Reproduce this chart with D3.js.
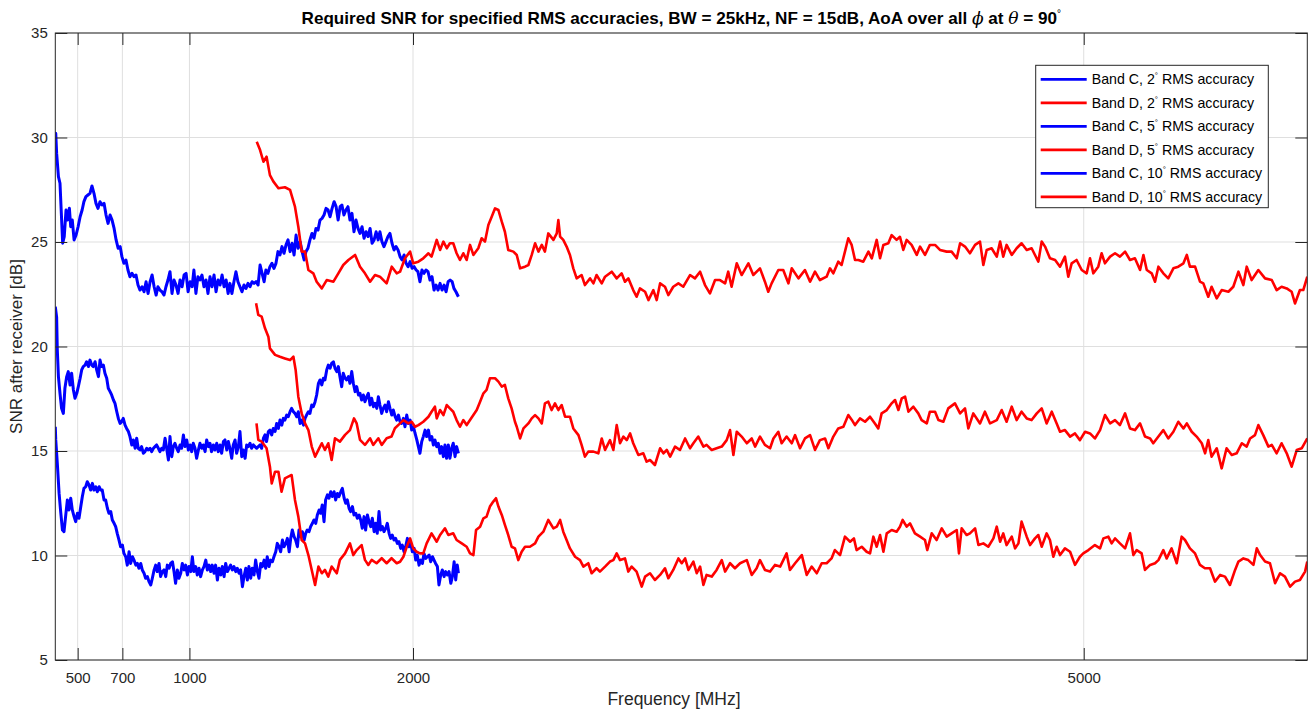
<!doctype html>
<html>
<head>
  <meta charset="utf-8">
  <script src="https://cdnjs.cloudflare.com/ajax/libs/d3/7.8.5/d3.min.js"></script>
  <style>
    body { margin: 0; background: #fff; }
    svg { font-family: "Liberation Sans", Arial, Helvetica, sans-serif; }
  </style>
</head>
<body>
  <svg id="chart" width="1314" height="712"></svg>
  <script>
    // [frequency MHz, SNR dB]
    var bandC2 = [[400,29.8],[402,30.2],[406,29.24],[414,28.13],[421,27.81],[427,26.37],[433,24.94],[440,25.26],[448,26.53],[455,26.05],[463,26.61],[469,25.73],[476,26.05],[484,25.1],[493,25.34],[502,25.73],[511,26.21],[520,26.53],[528,26.93],[537,27.17],[546,27.25],[555,27.33],[564,27.68],[573,27.33],[582,26.85],[591,26.61],[600,26.93],[609,26.77],[618,26.85],[627,26.29],[636,25.89],[645,26.29],[654,26.05],[663,25.65],[672,25.1],[681,24.7],[690,24.78],[698,24.3],[707,23.98],[716,24.14],[725,23.66],[734,23.34],[743,23.5],[752,23.34],[761,23.42],[770,22.94],[779,22.7],[788,22.86],[797,22.62],[806,23.1],[815,22.54],[824,23.1],[833,23.42],[842,22.86],[851,22.46],[859,22.86],[868,22.7],[877,22.62],[886,22.46],[895,22.86],[904,23.18],[913,23.58],[922,22.54],[931,23.18],[940,22.94],[949,22.54],[958,23.18],[967,22.86],[976,23.42],[985,23.5],[994,22.62],[1003,23.1],[1012,22.86],[1020,23.66],[1029,22.54],[1038,23.34],[1047,23.18],[1056,23.42],[1065,22.86],[1074,23.18],[1083,22.54],[1092,23.34],[1101,22.86],[1110,23.42],[1119,22.62],[1128,23.18],[1137,22.94],[1146,23.42],[1155,22.86],[1164,23.18],[1173,22.54],[1181,23.02],[1190,22.54],[1199,23.1],[1208,23.58],[1217,23.1],[1226,22.86],[1235,22.62],[1244,22.94],[1253,22.78],[1262,23.02],[1271,22.86],[1280,23.1],[1289,23.02],[1298,23.1],[1307,22.94],[1316,23.9],[1325,23.5],[1334,23.1],[1342,23.66],[1351,23.5],[1360,23.82],[1369,23.98],[1378,23.74],[1387,23.98],[1396,24.54],[1405,24.38],[1414,24.78],[1423,24.46],[1432,24.86],[1441,25.1],[1450,24.54],[1459,24.94],[1468,24.38],[1477,25.33],[1486,24.7],[1495,25.02],[1504,24.54],[1513,24.14],[1521,24.54],[1530,24.7],[1539,25.1],[1548,25.41],[1557,25.18],[1566,25.65],[1575,25.57],[1584,26.05],[1593,26.13],[1602,26.29],[1611,26.61],[1620,26.53],[1629,26.21],[1638,26.61],[1647,26.93],[1656,26.69],[1665,26.05],[1674,26.69],[1682,26.77],[1691,26.29],[1700,26.53],[1709,26.69],[1718,26.05],[1727,26.37],[1736,25.49],[1745,26.05],[1754,25.65],[1763,25.41],[1772,25.73],[1781,25.18],[1790,25.49],[1799,25.26],[1808,25.65],[1817,24.94],[1826,25.1],[1835,25.49],[1844,25.1],[1852,25.49],[1861,25.02],[1870,24.78],[1879,25.02],[1888,25.26],[1897,25.41],[1906,24.94],[1915,24.62],[1924,24.78],[1933,24.62],[1942,24.3],[1951,24.14],[1960,24.38],[1969,23.98],[1978,23.82],[1987,24.06],[1996,23.74],[2005,23.82],[2014,23.66],[2022,23.58],[2031,23.1],[2040,23.66],[2049,23.5],[2058,23.66],[2067,23.58],[2076,23.18],[2085,23.34],[2094,22.7],[2103,22.94],[2112,22.7],[2121,23.02],[2130,22.7],[2139,22.94],[2148,22.62],[2157,23.1],[2166,23.18],[2175,23.1],[2183,22.78],[2192,22.62],[2203,22.38]];

    var bandD2 = [[1301,29.8],[1316,29.4],[1331,28.84],[1345,29.08],[1360,28.2],[1375,27.9],[1398,27.57],[1427,27.62],[1450,27.49],[1472,26.69],[1487,25.73],[1502,24.54],[1517,24.54],[1532,23.66],[1554,23.5],[1569,23.1],[1592,22.78],[1614,23.18],[1644,23.1],[1666,23.5],[1688,23.9],[1711,24.14],[1741,24.38],[1763,23.82],[1785,23.5],[1808,23.1],[1830,23.42],[1852,23.34],[1882,23.02],[1905,23.82],[1927,23.5],[1942,23.58],[1964,24.22],[1987,24.54],[2001,23.98],[2024,24.06],[2046,24.22],[2069,24.46],[2083,24.3],[2106,25.1],[2121,24.62],[2136,25.02],[2151,24.7],[2165,24.94],[2180,24.94],[2195,24.46],[2210,24.14],[2225,24.46],[2240,24.14],[2255,24.86],[2270,24.38],[2292,24.7],[2307,25.18],[2322,25.02],[2337,25.81],[2352,26.21],[2367,26.61],[2382,26.53],[2397,25.97],[2411,25.49],[2426,24.62],[2449,24.54],[2464,24.38],[2479,23.74],[2501,23.82],[2516,23.9],[2531,24.38],[2546,24.94],[2561,24.54],[2576,24.86],[2590,24.54],[2605,25.41],[2628,25.1],[2643,25.41],[2650,26.05],[2658,25.26],[2672,25.1],[2687,24.78],[2702,24.38],[2717,23.74],[2732,23.26],[2754,23.42],[2769,22.94],[2792,23.26],[2807,23.02],[2821,23.42],[2844,23.02],[2859,23.34],[2889,23.58],[2911,23.26],[2933,23.5],[2948,23.1],[2963,23.26],[2985,22.7],[3000,22.38],[3015,22.78],[3038,22.62],[3053,22.22],[3075,22.7],[3090,22.22],[3105,23.02],[3127,22.86],[3142,22.46],[3164,22.86],[3187,23.02],[3209,22.86],[3239,23.42],[3261,23.26],[3284,23.58],[3306,22.94],[3328,22.54],[3351,23.18],[3373,23.18],[3396,23.02],[3410,23.58],[3425,22.86],[3448,23.98],[3470,23.42],[3500,23.98],[3522,23.42],[3552,23.74],[3574,23.1],[3589,22.62],[3604,23.02],[3634,23.66],[3656,23.66],[3679,23.02],[3694,23.74],[3724,23.26],[3753,23.66],[3776,23.1],[3798,23.58],[3820,23.18],[3850,23.34],[3865,23.74],[3880,23.5],[3902,24.06],[3917,23.9],[3932,24.54],[3947,25.18],[3962,24.86],[3977,24.14],[3992,24.14],[4014,24.06],[4037,24.54],[4052,24.22],[4074,25.1],[4089,24.22],[4104,24.86],[4126,24.94],[4141,25.33],[4163,25.1],[4178,25.25],[4193,24.62],[4208,25.1],[4230,24.86],[4253,24.38],[4268,24.78],[4290,24.38],[4312,24.86],[4335,24.86],[4357,24.62],[4387,24.54],[4409,24.54],[4432,24.22],[4447,24.94],[4469,24.78],[4491,24.46],[4514,24.86],[4536,25.02],[4551,23.9],[4566,24.62],[4588,24.7],[4611,24.3],[4626,25.02],[4640,24.3],[4655,24.86],[4678,24.38],[4700,24.7],[4722,24.94],[4745,24.62],[4767,24.7],[4782,24.38],[4797,24.06],[4812,25.02],[4827,24.78],[4849,24.22],[4872,24.14],[4894,23.82],[4916,24.3],[4931,23.34],[4946,23.98],[4968,24.14],[4991,23.66],[5013,23.5],[5028,24.22],[5043,23.5],[5065,23.82],[5080,24.46],[5095,23.98],[5118,24.3],[5140,24.46],[5162,24.3],[5185,24.54],[5207,24.14],[5229,24.22],[5252,23.66],[5267,24.38],[5282,23.66],[5304,23.5],[5319,23.1],[5334,23.82],[5356,23.5],[5378,23.26],[5401,23.74],[5423,23.82],[5446,23.98],[5461,24.38],[5475,23.82],[5498,23.82],[5520,23.1],[5535,23.02],[5557,22.38],[5572,22.86],[5595,22.3],[5617,22.7],[5647,22.62],[5669,22.86],[5692,23.58],[5714,22.94],[5729,23.82],[5751,23.18],[5781,23.66],[5811,23.26],[5841,23.18],[5863,22.7],[5885,22.86],[5908,22.78],[5930,22.62],[5945,22.06],[5967,22.7],[5982,22.7],[6000,23.34]];

    var bandC5 = [[400,21.9],[406,21.4],[409,19.83],[414,18.56],[421,17.76],[428,17.04],[436,16.8],[443,18.0],[451,18.56],[458,18.8],[466,18.16],[473,18.72],[481,17.92],[488,17.52],[496,17.76],[503,18.08],[511,18.48],[518,18.88],[525,19.04],[533,19.11],[540,19.27],[548,19.04],[555,19.35],[563,19.11],[570,19.04],[578,19.27],[585,18.88],[593,18.56],[600,19.35],[607,19.04],[615,19.11],[622,18.72],[630,18.48],[637,18.0],[645,17.84],[652,17.68],[660,17.44],[667,17.28],[675,16.88],[682,16.56],[690,16.32],[697,16.4],[704,16.56],[712,16.24],[719,16.08],[727,15.93],[734,15.69],[742,15.29],[749,15.53],[757,15.13],[764,15.61],[771,15.13],[779,15.05],[786,15.21],[794,14.89],[801,14.97],[809,15.13],[816,15.05],[824,15.13],[831,14.97],[839,15.13],[846,15.21],[853,15.29],[861,15.13],[868,14.97],[876,15.13],[883,15.05],[891,15.61],[898,15.13],[906,14.57],[913,15.69],[921,14.73],[928,15.21],[935,15.37],[943,15.13],[950,14.97],[958,15.29],[965,15.13],[973,15.77],[980,15.21],[988,15.53],[995,15.05],[1003,15.29],[1010,14.97],[1017,15.37],[1025,15.13],[1032,14.65],[1040,15.05],[1047,15.37],[1055,15.13],[1062,15.29],[1070,14.97],[1077,15.53],[1085,15.21],[1092,15.37],[1099,14.97],[1107,15.29],[1114,15.05],[1122,15.37],[1129,14.97],[1137,15.29],[1144,14.89],[1152,15.45],[1159,15.53],[1167,15.05],[1174,15.45],[1181,15.13],[1189,14.65],[1196,15.29],[1204,15.53],[1211,14.89],[1219,15.21],[1226,15.93],[1234,14.73],[1241,15.05],[1249,14.65],[1256,15.29],[1263,15.21],[1271,15.37],[1278,15.13],[1286,15.29],[1293,15.21],[1301,15.13],[1308,15.21],[1316,15.29],[1323,15.13],[1331,15.61],[1338,15.77],[1345,15.45],[1353,15.93],[1360,16.0],[1368,15.77],[1375,16.08],[1383,15.93],[1390,16.32],[1398,16.08],[1405,16.48],[1413,16.24],[1420,16.56],[1427,16.48],[1435,16.72],[1442,16.64],[1450,16.88],[1457,17.04],[1465,16.88],[1472,16.8],[1480,16.64],[1487,16.88],[1495,16.32],[1502,16.48],[1510,16.24],[1517,16.56],[1524,16.72],[1532,16.88],[1539,16.8],[1547,17.2],[1554,17.12],[1562,17.36],[1569,17.68],[1577,18.24],[1584,18.4],[1592,18.16],[1599,18.48],[1606,18.4],[1614,18.88],[1621,19.11],[1629,18.96],[1636,19.19],[1644,19.27],[1651,18.96],[1659,18.8],[1666,19.04],[1673,18.56],[1681,18.08],[1688,18.72],[1696,18.48],[1703,18.4],[1711,18.56],[1718,18.24],[1726,18.8],[1733,18.24],[1741,17.84],[1748,18.08],[1756,17.68],[1763,17.76],[1770,17.44],[1778,17.68],[1785,17.36],[1793,17.6],[1800,17.76],[1808,17.2],[1815,17.52],[1823,17.12],[1830,17.28],[1838,17.04],[1845,17.6],[1852,17.2],[1860,16.8],[1867,17.04],[1875,17.2],[1882,16.88],[1890,17.36],[1897,17.04],[1905,16.72],[1912,16.96],[1920,16.64],[1927,16.48],[1935,16.72],[1942,16.4],[1949,16.32],[1957,16.56],[1964,16.16],[1972,16.72],[1979,16.32],[1987,16.48],[1994,16.0],[2002,16.16],[2009,15.85],[2017,15.53],[2024,15.21],[2031,14.89],[2039,15.45],[2046,15.69],[2054,16.0],[2061,15.69],[2069,16.0],[2076,15.53],[2084,15.69],[2091,15.29],[2098,15.53],[2106,15.21],[2113,15.37],[2121,14.89],[2128,15.21],[2136,14.73],[2143,15.29],[2150,14.65],[2158,15.29],[2165,14.65],[2173,15.13],[2180,15.37],[2188,14.73],[2195,15.21],[2203,14.89]];

    var bandD5 = [[1298,22.07],[1308,21.51],[1323,21.43],[1338,20.87],[1353,20.47],[1360,19.91],[1383,19.6],[1405,19.51],[1427,19.43],[1450,19.35],[1465,19.51],[1475,18.88],[1487,17.6],[1502,16.8],[1517,16.32],[1532,16.0],[1547,15.21],[1562,14.73],[1577,15.05],[1592,15.37],[1606,15.05],[1621,15.37],[1636,14.57],[1651,15.61],[1673,15.45],[1696,15.77],[1718,16.0],[1736,16.56],[1748,16.32],[1763,15.53],[1785,15.29],[1808,15.61],[1822,15.29],[1845,15.61],[1860,15.29],[1882,15.61],[1904,15.69],[1919,16.09],[1942,16.32],[1957,16.48],[1979,16.32],[1994,16.4],[2009,16.16],[2024,16.24],[2046,16.4],[2069,16.64],[2083,16.88],[2098,17.12],[2106,16.56],[2121,16.96],[2136,16.72],[2151,17.2],[2165,17.04],[2180,16.88],[2195,16.48],[2210,16.16],[2225,16.48],[2240,16.24],[2255,16.48],[2270,16.72],[2285,16.96],[2300,17.36],[2315,17.76],[2329,17.92],[2344,18.48],[2367,18.48],[2382,18.32],[2397,18.08],[2411,18.16],[2426,17.52],[2441,17.04],[2456,16.4],[2464,16.16],[2479,15.6],[2494,16.08],[2516,16.32],[2531,16.56],[2546,16.72],[2561,16.56],[2576,16.32],[2590,17.28],[2605,17.36],[2620,16.96],[2635,17.28],[2650,16.96],[2665,17.2],[2680,16.64],[2702,16.64],[2717,16.08],[2740,15.76],[2754,15.29],[2769,14.73],[2784,14.97],[2807,14.97],[2829,14.89],[2844,15.6],[2859,15.05],[2881,15.52],[2896,15.05],[2911,16.24],[2926,15.37],[2941,15.69],[2956,15.52],[2971,15.84],[2985,15.37],[3008,14.81],[3030,14.89],[3045,14.49],[3060,14.57],[3082,14.33],[3105,15.13],[3120,14.89],[3135,15.05],[3150,14.73],[3172,15.21],[3194,15.05],[3217,15.6],[3239,15.13],[3254,15.37],[3276,15.69],[3299,15.21],[3313,15.29],[3336,15.05],[3358,15.13],[3381,15.21],[3403,15.52],[3418,16.0],[3433,14.81],[3448,15.92],[3470,15.69],[3493,15.37],[3515,15.6],[3530,15.21],[3552,15.69],[3574,15.29],[3597,15.13],[3612,15.6],[3634,15.92],[3649,15.37],[3671,15.69],[3694,15.37],[3709,15.76],[3731,15.13],[3753,15.6],[3776,15.76],[3798,15.05],[3820,15.52],[3843,15.6],[3858,15.13],[3880,15.69],[3902,16.08],[3925,16.16],[3947,16.72],[3962,16.5],[3977,16.24],[3999,16.56],[4022,16.4],[4044,16.64],[4066,16.32],[4081,16.08],[4096,16.8],[4119,16.96],[4141,17.28],[4156,17.44],[4171,16.96],[4186,17.52],[4201,17.6],[4216,16.88],[4238,17.12],[4260,16.8],[4275,16.48],[4298,16.32],[4312,16.88],[4335,16.88],[4350,16.48],[4372,16.4],[4394,17.04],[4424,17.28],[4447,16.8],[4469,17.04],[4484,16.08],[4506,16.8],[4536,16.32],[4558,16.88],[4581,16.32],[4611,16.48],[4633,16.96],[4655,16.4],[4678,17.12],[4700,16.48],[4722,16.88],[4745,16.56],[4767,16.48],[4790,16.8],[4812,17.04],[4834,16.32],[4857,16.88],[4879,16.32],[4894,15.92],[4916,16.0],[4939,15.69],[4961,15.84],[4983,15.52],[5006,15.92],[5028,15.84],[5050,15.6],[5073,16.0],[5095,16.72],[5118,16.32],[5140,16.48],[5162,16.24],[5185,16.8],[5207,16.08],[5229,16.0],[5252,16.32],[5274,15.69],[5297,15.6],[5311,15.37],[5334,15.69],[5356,16.0],[5378,15.6],[5401,15.92],[5423,16.4],[5446,16.08],[5461,16.32],[5483,15.92],[5505,15.69],[5528,15.37],[5543,14.89],[5557,15.52],[5572,14.73],[5595,15.13],[5617,14.17],[5639,15.13],[5662,14.81],[5684,14.89],[5707,15.37],[5729,15.21],[5744,15.6],[5766,15.76],[5781,16.24],[5803,15.76],[5826,15.21],[5841,15.29],[5863,14.89],[5885,15.37],[5908,14.89],[5930,14.25],[5953,15.05],[5975,15.13],[6000,15.6]];

    var bandC10 = [[400,16.16],[402,15.53],[409,14.41],[417,12.97],[424,12.1],[432,11.22],[439,11.14],[446,11.86],[454,12.66],[461,12.18],[469,12.74],[476,12.18],[484,11.86],[491,11.62],[499,12.02],[506,11.78],[514,12.34],[521,12.82],[528,13.21],[536,13.29],[543,13.53],[551,13.37],[558,13.13],[566,13.45],[573,13.13],[581,13.29],[588,13.05],[596,13.29],[603,13.13],[610,13.13],[618,12.66],[625,12.66],[633,12.26],[640,12.02],[648,12.1],[655,11.7],[663,11.54],[670,11.38],[677,11.06],[685,10.74],[692,10.42],[700,10.5],[707,10.1],[715,9.94],[722,9.54],[730,10.18],[737,9.62],[745,9.94],[752,9.78],[760,9.54],[767,9.62],[774,9.39],[782,9.62],[789,9.31],[797,9.15],[804,8.91],[812,8.99],[819,8.75],[827,8.59],[834,8.91],[842,9.31],[849,9.54],[856,9.23],[864,9.62],[871,8.99],[879,9.23],[886,9.31],[894,8.99],[901,9.54],[909,9.39],[916,9.62],[924,9.7],[931,9.23],[938,8.67],[946,9.31],[953,8.91],[961,9.15],[968,9.62],[976,9.31],[983,9.54],[991,9.07],[998,9.47],[1006,9.23],[1013,9.94],[1020,9.23],[1028,9.47],[1035,9.07],[1043,9.39],[1050,8.99],[1058,9.31],[1065,9.47],[1073,9.78],[1080,9.31],[1088,9.54],[1095,9.23],[1102,9.54],[1110,9.15],[1117,9.54],[1125,8.83],[1132,9.39],[1140,9.07],[1147,9.47],[1155,8.99],[1162,9.62],[1170,9.23],[1177,9.39],[1184,9.54],[1192,9.31],[1199,9.47],[1207,9.23],[1214,9.39],[1222,9.15],[1229,9.31],[1237,8.51],[1244,8.99],[1252,9.39],[1259,8.83],[1266,9.47],[1274,8.91],[1281,9.39],[1289,9.07],[1296,9.78],[1304,9.23],[1311,8.91],[1319,9.62],[1326,9.47],[1334,9.78],[1341,9.39],[1348,9.94],[1356,9.47],[1363,9.78],[1371,9.7],[1378,9.94],[1386,10.18],[1393,10.58],[1401,10.42],[1408,10.18],[1416,10.74],[1423,10.42],[1431,10.58],[1438,10.82],[1446,10.18],[1453,10.82],[1460,11.22],[1468,10.9],[1475,10.74],[1483,10.42],[1490,11.22],[1498,10.9],[1505,11.14],[1513,10.74],[1520,11.06],[1527,11.22],[1535,11.14],[1542,11.38],[1550,11.54],[1557,11.7],[1565,11.54],[1572,11.94],[1580,12.18],[1587,12.02],[1594,12.42],[1602,11.62],[1609,12.66],[1617,12.9],[1624,12.74],[1632,13.05],[1639,12.82],[1647,13.05],[1654,12.66],[1662,12.97],[1669,12.82],[1677,13.05],[1684,13.21],[1692,12.74],[1699,12.5],[1706,12.66],[1714,12.26],[1721,12.1],[1729,12.34],[1736,11.94],[1744,12.02],[1751,11.78],[1759,11.94],[1766,11.7],[1773,11.3],[1781,11.86],[1788,11.22],[1796,11.94],[1803,11.62],[1811,11.38],[1818,11.78],[1826,11.14],[1833,11.54],[1840,11.06],[1848,12.1],[1855,11.22],[1863,11.38],[1870,11.14],[1878,11.3],[1885,11.54],[1893,11.06],[1900,10.82],[1907,10.98],[1915,10.74],[1922,10.82],[1930,10.58],[1937,10.66],[1945,10.34],[1952,10.5],[1960,10.18],[1967,10.42],[1975,10.82],[1982,10.42],[1990,10.58],[1997,10.18],[2005,10.34],[2012,9.78],[2019,10.02],[2027,9.54],[2035,9.78],[2042,9.62],[2049,10.1],[2057,9.86],[2064,9.94],[2072,10.02],[2079,9.7],[2087,9.94],[2094,9.78],[2101,9.62],[2109,9.47],[2116,8.59],[2124,9.07],[2131,9.31],[2139,8.99],[2146,9.23],[2154,9.07],[2161,9.23],[2169,8.67],[2176,8.99],[2184,9.7],[2191,8.83],[2198,9.54],[2203,9.15]];

    var bandD10 = [[1300,16.32],[1308,15.53],[1323,15.45],[1345,15.13],[1360,14.25],[1368,13.45],[1383,14.01],[1398,14.01],[1412,13.05],[1427,13.69],[1442,13.77],[1457,13.85],[1472,12.66],[1487,11.86],[1502,10.74],[1517,10.58],[1532,10.02],[1547,9.31],[1562,8.59],[1577,9.47],[1592,9.15],[1606,9.31],[1621,8.99],[1636,9.47],[1659,9.15],[1673,9.79],[1696,10.1],[1718,10.58],[1733,10.02],[1748,10.26],[1770,10.5],[1785,9.79],[1800,9.55],[1815,9.79],[1837,9.63],[1860,9.87],[1882,9.63],[1904,9.87],[1927,9.63],[1942,9.7],[1957,9.94],[1972,10.42],[1987,10.82],[2001,10.34],[2016,10.18],[2031,10.1],[2046,10.1],[2061,10.58],[2083,11.06],[2106,10.66],[2121,10.98],[2143,11.3],[2158,10.98],[2180,11.06],[2195,10.74],[2218,10.58],[2240,10.42],[2255,10.1],[2270,10.02],[2282,11.22],[2300,11.38],[2315,11.78],[2329,11.86],[2344,12.34],[2359,12.58],[2371,12.74],[2382,12.34],[2397,11.94],[2411,11.46],[2426,10.98],[2441,10.42],[2456,10.34],[2471,9.78],[2486,10.18],[2501,10.42],[2523,10.42],[2546,10.58],[2561,10.9],[2583,11.14],[2605,11.7],[2628,11.3],[2643,11.38],[2658,11.7],[2672,11.14],[2687,10.74],[2702,10.34],[2725,9.94],[2747,9.78],[2762,9.47],[2784,9.63],[2799,9.15],[2821,9.39],[2836,9.23],[2859,9.47],[2881,9.71],[2896,9.78],[2911,10.1],[2926,9.78],[2948,9.86],[2963,9.23],[2978,9.47],[3000,9.23],[3023,8.51],[3038,8.99],[3060,9.15],[3082,8.83],[3105,9.07],[3127,9.39],[3142,8.91],[3164,9.31],[3187,9.86],[3202,9.63],[3217,9.86],[3232,9.31],[3254,9.71],[3269,9.15],[3284,9.47],[3299,8.59],[3313,9.07],[3336,8.99],[3358,9.31],[3381,9.78],[3396,9.23],[3418,9.63],[3440,9.39],[3463,9.63],[3493,9.78],[3515,9.07],[3537,9.39],[3552,9.78],[3574,9.31],[3597,9.23],[3619,9.55],[3642,9.47],[3671,10.1],[3686,9.31],[3709,9.63],[3739,10.02],[3761,9.07],[3783,9.47],[3806,9.15],[3828,9.63],[3850,9.63],[3872,9.86],[3887,10.26],[3910,10.02],[3932,10.9],[3955,10.66],[3972,10.82],[3984,10.26],[4007,10.42],[4029,10.18],[4044,10.1],[4059,10.9],[4074,10.42],[4089,10.98],[4104,10.18],[4119,11.06],[4141,11.22],[4163,11.14],[4178,11.38],[4190,11.7],[4208,11.38],[4223,11.54],[4245,11.06],[4268,10.9],[4290,10.74],[4300,10.26],[4320,11.06],[4342,10.74],[4365,11.3],[4387,10.9],[4409,11.06],[4432,11.22],[4442,10.1],[4454,11.3],[4476,10.98],[4491,11.06],[4514,11.3],[4529,10.5],[4551,10.58],[4573,10.42],[4596,10.82],[4611,11.38],[4626,10.66],[4640,11.06],[4655,10.5],[4678,10.9],[4693,10.34],[4708,10.58],[4722,11.62],[4745,10.9],[4760,10.5],[4782,10.82],[4797,10.98],[4812,10.42],[4834,11.06],[4849,10.74],[4864,9.94],[4879,10.42],[4894,10.02],[4916,10.34],[4939,10.18],[4961,9.55],[4983,9.94],[4998,10.1],[5021,10.26],[5050,10.5],[5073,10.34],[5088,10.82],[5110,10.9],[5125,10.58],[5140,10.82],[5162,10.58],[5185,10.34],[5207,11.06],[5222,10.02],[5237,10.26],[5259,10.1],[5274,9.31],[5297,9.55],[5319,9.63],[5334,9.78],[5356,10.26],[5371,9.86],[5393,10.34],[5416,9.63],[5438,10.9],[5453,10.74],[5475,10.34],[5498,10.1],[5520,9.55],[5542,9.39],[5565,9.39],[5587,8.75],[5610,9.07],[5632,8.99],[5654,8.59],[5677,9.31],[5692,9.71],[5714,9.86],[5736,9.78],[5759,9.55],[5774,10.34],[5789,10.02],[5811,9.71],[5833,9.63],[5856,8.67],[5878,9.15],[5900,8.99],[5923,8.51],[5945,8.75],[5967,8.83],[5990,9.23],[6000,9.71]];

    var xTicks = [500, 700, 1000, 2000, 5000];
    var yTicks = [5, 10, 15, 20, 25, 30, 35];
    var seriesOrder = [bandC2, bandD2, bandC5, bandD5, bandC10, bandD10];
    var seriesBand = ["C", "D", "C", "D", "C", "D"];
    var seriesAcc = ["2", "2", "5", "5", "10", "10"];

    drawChart();

    function drawChart() {
      var svg = d3.select("#chart");
      var plotLeft = 55.3, plotRight = 1307.3, plotTop = 33, plotBottom = 660;
      var axisColor = "#262626";
      var bandColor = { C: "#0000ff", D: "#ff0000" };
      var bandWidth = { C: 3, D: 2.6 };

      var x = d3.scaleLinear().domain([400, 6000]).range([plotLeft, plotRight]);
      var y = d3.scaleLinear().domain([5, 35]).range([plotBottom, plotTop]);

      // grid
      var grid = svg.append("g").attr("class", "grid");
      grid.selectAll("line.gx")
        .data(xTicks)
        .enter()
        .append("line")
        .attr("x1", d => x(d)).attr("x2", d => x(d))
        .attr("y1", plotTop).attr("y2", plotBottom)
        .attr("stroke", "#dfdfdf").attr("stroke-width", 1);
      grid.selectAll("line.gy")
        .data(yTicks)
        .enter()
        .append("line")
        .attr("x1", plotLeft).attr("x2", plotRight)
        .attr("y1", d => y(d)).attr("y2", d => y(d))
        .attr("stroke", "#dfdfdf").attr("stroke-width", 1);

      svg.append("clipPath").attr("id", "plotClip")
        .append("rect")
        .attr("x", plotLeft).attr("y", plotTop)
        .attr("width", plotRight - plotLeft).attr("height", plotBottom - plotTop);

      var line = d3.line().x(d => x(d[0])).y(d => y(d[1]));

      svg.append("g")
        .attr("clip-path", "url(#plotClip)")
        .selectAll("path")
        .data(seriesOrder)
        .enter()
        .append("path")
        .attr("d", line)
        .attr("fill", "none")
        .attr("stroke", (d, i) => bandColor[seriesBand[i]])
        .attr("stroke-width", (d, i) => bandWidth[seriesBand[i]])
        .attr("stroke-linejoin", "round");

      // axes, ticks pointing inward on all four sides
      var fmt = d3.format("d");
      var gBottom = svg.append("g").attr("transform", `translate(0,${plotBottom})`)
        .call(d3.axisBottom(x).tickValues(xTicks).tickFormat(fmt).tickSizeInner(-12).tickSizeOuter(0).tickPadding(12));
      var gTop = svg.append("g").attr("transform", `translate(0,${plotTop})`)
        .call(d3.axisTop(x).tickValues(xTicks).tickFormat("").tickSizeInner(-12).tickSizeOuter(0));
      var gLeft = svg.append("g").attr("transform", `translate(${plotLeft},0)`)
        .call(d3.axisLeft(y).tickValues(yTicks).tickFormat(fmt).tickSizeInner(-12).tickSizeOuter(0).tickPadding(7.5));
      var gRight = svg.append("g").attr("transform", `translate(${plotRight},0)`)
        .call(d3.axisRight(y).tickValues(yTicks).tickFormat("").tickSizeInner(-12).tickSizeOuter(0));

      [gBottom, gTop, gLeft, gRight].forEach(g => {
        g.select(".domain").remove();
        g.selectAll(".tick line").attr("stroke", axisColor).attr("stroke-width", 1);
        g.selectAll(".tick text")
          .attr("fill", axisColor)
          .style("font-size", "15px")
          .style("font-family", "'Liberation Sans', Arial, Helvetica, sans-serif");
      });

      svg.append("rect")
        .attr("x", plotLeft).attr("y", plotTop)
        .attr("width", plotRight - plotLeft).attr("height", plotBottom - plotTop)
        .attr("fill", "none")
        .attr("stroke", axisColor)
        .attr("stroke-width", 1);

      // axis titles
      svg.append("text")
        .attr("x", 674).attr("y", 705)
        .attr("text-anchor", "middle")
        .attr("fill", axisColor)
        .style("font-size", "17.5px")
        .text("Frequency [MHz]");

      svg.append("text")
        .attr("transform", `translate(22,${(plotTop + plotBottom) / 2}) rotate(-90)`)
        .attr("text-anchor", "middle")
        .attr("fill", axisColor)
        .style("font-size", "17px")
        .text("SNR after receiver [dB]");

      // title with math symbols
      var title = svg.append("text")
        .attr("x", (plotLeft + plotRight) / 2).attr("y", 24)
        .attr("text-anchor", "middle")
        .attr("fill", "#000")
        .style("font-size", "17.1px")
        .style("font-weight", "bold");
      title.append("tspan").text("Required SNR for specified RMS accuracies, BW = 25kHz, NF = 15dB, AoA over all ");
      title.append("tspan").style("font-style", "italic").style("font-weight", "normal").style("font-family", "'DejaVu Serif', serif").text("\u03D5");
      title.append("tspan").text(" at ");
      title.append("tspan").style("font-style", "italic").style("font-weight", "normal").style("font-family", "'DejaVu Serif', serif").text("\u03B8");
      title.append("tspan").text(" = 90");
      title.append("tspan").attr("dy", -7).style("font-size", "10px").style("font-weight", "normal").text("\u00B0");

      // legend
      var legX = 1035.7, legY = 65.3, legW = 232.6, legH = 142.4, rowH = 23.5;
      var legend = svg.append("g");
      legend.append("rect")
        .attr("x", legX).attr("y", legY)
        .attr("width", legW).attr("height", legH)
        .attr("fill", "#fff")
        .attr("stroke", axisColor)
        .attr("stroke-width", 1);

      var rows = legend.selectAll("g.row")
        .data(seriesOrder.map((s, i) => i))
        .enter()
        .append("g")
        .attr("transform", i => `translate(${legX}, ${legY + 14 + i * rowH})`);
      rows.append("line")
        .attr("x1", 5).attr("x2", 51)
        .attr("y1", 0).attr("y2", 0)
        .attr("stroke", i => bandColor[seriesBand[i]])
        .attr("stroke-width", 2.8);
      var lt = rows.append("text")
        .attr("x", 56).attr("y", 0).attr("dy", "0.36em")
        .attr("fill", "#000")
        .style("font-size", "14.2px");
      lt.append("tspan").text(i => "Band " + seriesBand[i] + ", " + seriesAcc[i]);
      lt.append("tspan").attr("dy", -6).style("font-size", "8px").text("\u00B0");
      lt.append("tspan").attr("dy", 6).text(" RMS accuracy");
    }
  </script>
</body>
</html>
